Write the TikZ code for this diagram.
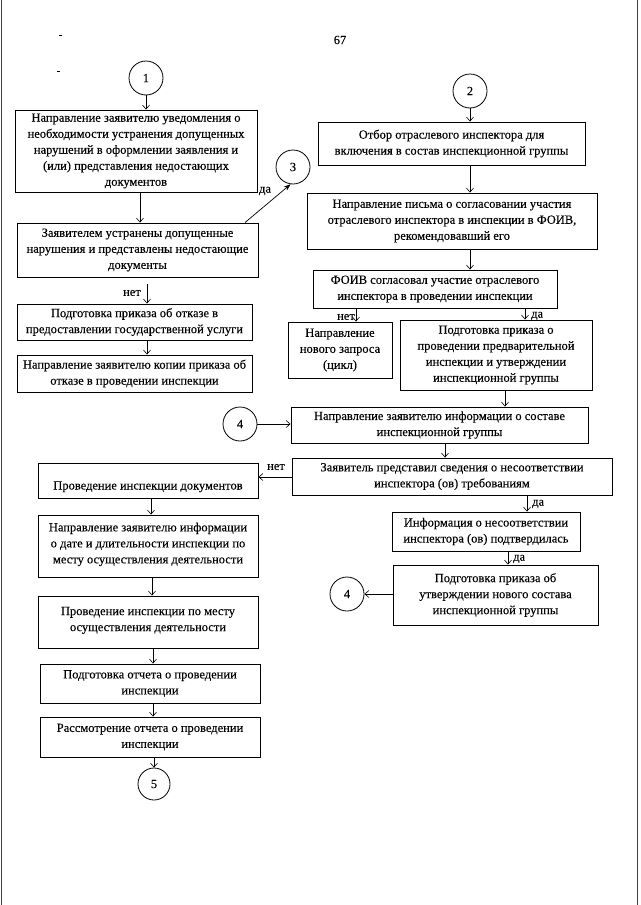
\documentclass[tikz,border=0pt]{standalone}
\usepackage{fontspec}
\setmainfont[FakeBold=0.15]{Liberation Serif}
\usetikzlibrary{arrows.meta}
\begin{document}
\begin{tikzpicture}[x=1pt,y=-1pt,
  every node/.style={font=\fontsize{12.5}{16}\selectfont},
  box/.style={draw, line width=0.9pt, align=center, inner sep=0pt},
  arr/.style={-{Straight Barb[length=4pt,width=7pt]}, line width=0.6pt},
  farr/.style={-{Stealth[length=7pt,width=5pt]}, line width=0.7pt},
  circ/.style={draw, circle, line width=0.8pt, inner sep=0pt},
  lbl/.style={inner sep=1pt},
  scan/.style={line width=1pt, black!75}]
\path[use as bounding box] (0,0) rectangle (640,905);
% scan edges and marks
\draw[scan] (1.5,0) -- (1.5,905);
\draw[scan] (637,0) -- (637,905);
\draw[line width=1pt] (59,35) -- (62,35);
\draw[line width=1pt] (57,71) -- (60,71);
\node (pg) at (340,40) {67};

% circles
\node[circ, minimum size=34pt] (k1) at (146,78) {1};
\node[circ, minimum size=34pt] (k2) at (470,91) {2};
\node[circ, minimum size=34pt] (k3) at (293,167) {3};
\node[circ, minimum size=34pt] (k4a) at (240,424) {4};
\node[circ, minimum size=34pt] (k4b) at (347,594) {4};
\node[circ, minimum size=32pt] (k5) at (154,784) {5};

% left column, top
\node[box, minimum width=242pt, minimum height=82pt] (a1) at (136,151)
  {Направление заявителю уведомления о\\необходимости устранения допущенных\\нарушений в оформлении заявления и\\(или) представления недостающих\\документов};
\node[box, minimum width=241pt, minimum height=54pt] (a2) at (137.5,250)
  {Заявителем устранены допущенные\\нарушения и представлены недостающие\\документы};
\node[box, minimum width=235pt, minimum height=36pt] (a3) at (134.5,322)
  {Подготовка приказа об отказе в\\предоставлении государственной услуги};
\node[box, minimum width=235pt, minimum height=37pt] (a4) at (134.5,373.5)
  {Направление заявителю копии приказа об\\отказе в проведении инспекции};

% right column
\node[box, minimum width=267pt, minimum height=43pt] (b1) at (451.5,143.5)
  {Отбор отраслевого инспектора для\\включения в состав инспекционной группы};
\node[box, minimum width=290pt, minimum height=56pt] (b2) at (452,221)
  {Направление письма о согласовании участия\\отраслевого инспектора в инспекции в ФОИВ,\\рекомендовавший его};
\node[box, minimum width=244pt, minimum height=38pt] (b3) at (435,289)
  {ФОИВ согласовал участие отраслевого\\инспектора в проведении инспекции};
\node[box, minimum width=104pt, minimum height=56pt] (b4) at (340,350)
  {Направление\\нового запроса\\(цикл)};
\node[box, minimum width=192pt, minimum height=70pt] (b5) at (496,355)
  {Подготовка приказа о\\проведении предварительной\\инспекции и утверждении\\инспекционной группы};
\node[box, minimum width=297pt, minimum height=36pt] (b6) at (439.5,425)
  {Направление заявителю информации о составе\\инспекционной группы};
\node[box, minimum width=320pt, minimum height=37pt] (b7) at (452,476.5)
  {Заявитель представил сведения о несоответствии\\инспектора (ов) требованиям};
\node[box, minimum width=188pt, minimum height=39pt] (bc2) at (486,531.5)
  {Информация о несоответствии\\инспектора (ов) подтвердилась};
\node[box, minimum width=205pt, minimum height=60pt] (bc3) at (495.5,595)
  {Подготовка приказа об\\утверждении нового состава\\инспекционной группы};

% left column, bottom
\node[box, minimum width=220pt, minimum height=35pt, text height=21pt, text depth=3pt] (d0) at (148,480.5)
  {Проведение инспекции документов};
\node[box, minimum width=220pt, minimum height=62pt, text depth=6pt] (d1) at (148,546)
  {Направление заявителю информации\\о дате и длительности инспекции по\\месту осуществления деятельности};
\node[box, minimum width=220pt, minimum height=52pt, text depth=6pt] (d2) at (148,622)
  {Проведение инспекции по месту\\осуществления деятельности};
\node[box, minimum width=220pt, minimum height=39pt] (d3) at (150,683.5)
  {Подготовка отчета о проведении\\инспекции};
\node[box, minimum width=220pt, minimum height=40pt] (d4) at (150,737)
  {Рассмотрение отчета о проведении\\инспекции};

% connectors, left top
\draw[arr] (k1.south) -- (a1.north -| k1.south);
\draw[arr] (a1.south -| 140,0) -- (a2.north -| 140,0);
\draw[farr] (a2.north -| 245,0) -- (k3.262);
\node[lbl] (yes3) at (265,191) {да};
\draw[arr, shorten <=7pt] (a2.south -| 147,0) -- (a3.north -| 147,0);
\node[lbl, anchor=east] (no1) at (142,293) {нет};
\draw[arr] (a3.south -| 147,0) -- (a4.north -| 147,0);

% connectors, right
\draw[arr] (k2.south) -- (b1.north -| k2.south);
\draw[arr] (b1.south -| 470,0) -- (b2.north -| 470,0);
\draw[arr] (b2.south -| 470,0) -- (b3.north -| 470,0);
\draw[arr] (b3.south -| 356,0) -- (b4.north -| 356,0);
\node[lbl, anchor=east] (no2) at (356,317) {нет};
\draw[arr] (b3.south -| 525,0) -- (b5.north -| 525,0);
\node[lbl, anchor=west] (yes2) at (530,316) {да};
\draw[arr] (b5.south -| 505,0) -- (b6.north -| 505,0);
\draw[arr] (k4a.east) -- (b6.west |- k4a.east);
\draw[arr] (b6.south -| 445,0) -- (b7.north -| 445,0);
\draw[arr] (b7.west |- 0,477) -- (d0.east |- 0,477);
\node[lbl] (no3) at (276,467) {нет};
\draw[arr] (b7.south -| 527,0) -- (bc2.north -| 527,0);
\node[lbl, anchor=west] (yes4) at (531,504) {да};
\draw[arr] (bc2.south -| 508,0) -- (bc3.north -| 508,0);
\node[lbl, anchor=west] (yes5) at (512,559) {да};
\draw[arr] (bc3.west |- k4b.east) -- (k4b.east);

% connectors, left bottom
\draw[arr] (d0.south -| 151,0) -- (d1.north -| 151,0);
\draw[arr] (d1.south -| 152,0) -- (d2.north -| 152,0);
\draw[arr] (d2.south -| 153,0) -- (d3.north -| 153,0);
\draw[arr] (d3.south -| 153,0) -- (d4.north -| 153,0);
\draw[arr] (d4.south -| 154,0) -- (k5.north);
\end{tikzpicture}
\end{document}
